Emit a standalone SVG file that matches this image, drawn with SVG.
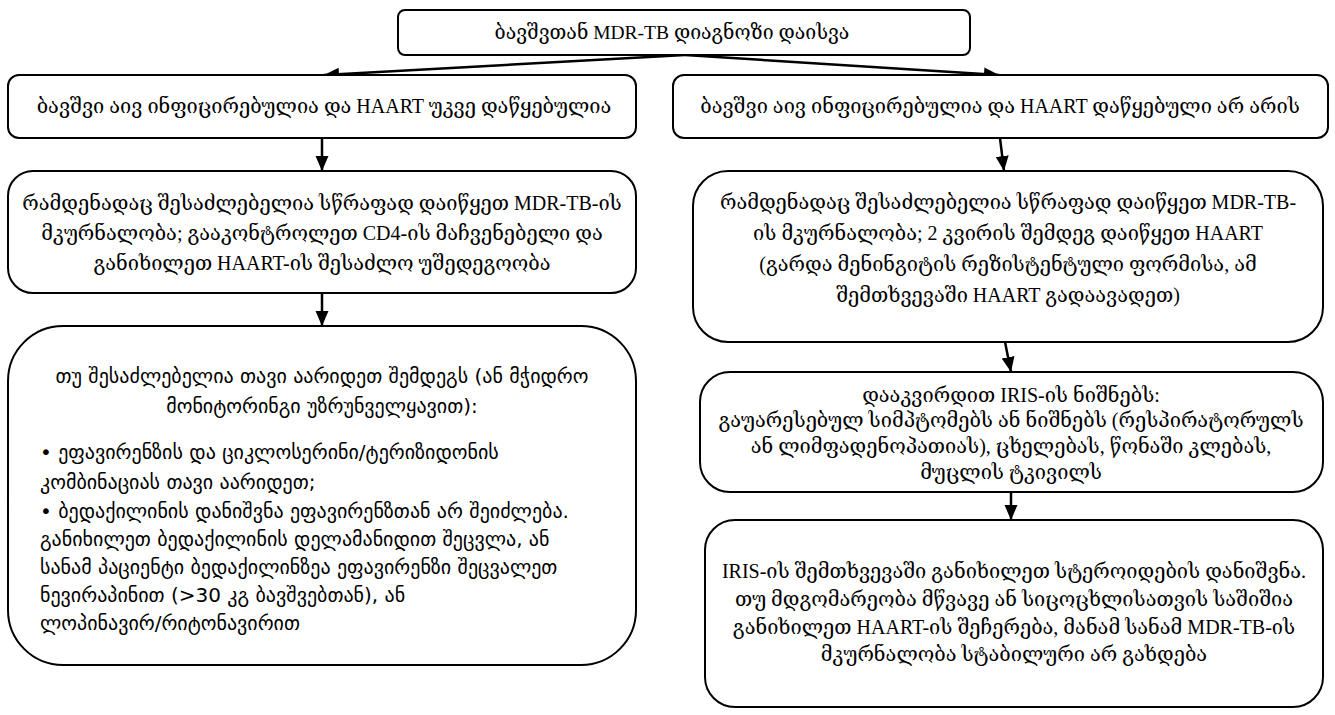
<svg xmlns="http://www.w3.org/2000/svg" width="1335" height="715" viewBox="0 0 1335 715">
  <style>
    .box { fill: #ffffff; stroke: #000000; stroke-width: 2; }
    .t { font-family: "Liberation Serif", "DejaVu Serif", serif; font-size: 20px; fill: #000000; text-anchor: middle; }
    .s { font-family: "DejaVu Sans", "Liberation Sans", sans-serif; font-size: 20px; fill: #000000; }
    .c { text-anchor: middle; }
    .edge { stroke: #000000; stroke-width: 2.5; fill: none; marker-end: url(#arrow); }
  </style>
  <defs>
    <marker id="arrow" markerUnits="userSpaceOnUse" markerWidth="16" markerHeight="16" viewBox="0 0 16 16" refX="15" refY="8" orient="auto">
      <path d="M0,1.5 L15,8 L0,14.5 Z" fill="#000000"/>
    </marker>
  </defs>

  <rect width="1335" height="715" fill="#ffffff"/>

  <!-- connectors -->
  <g id="connectors">
    <line class="edge" x1="685" y1="55" x2="324" y2="75"/>
    <line class="edge" x1="685" y1="55" x2="999" y2="75"/>
    <line class="edge" x1="322" y1="138" x2="322" y2="171"/>
    <line class="edge" x1="1000" y1="138" x2="1004" y2="171"/>
    <line class="edge" x1="322" y1="293" x2="322" y2="326"/>
    <line class="edge" x1="1005" y1="342" x2="1011" y2="372"/>
    <line class="edge" x1="1011" y1="492" x2="1011" y2="520"/>
  </g>

  <!-- root -->
  <g id="n-root">
    <rect class="box" x="398" y="10" width="572" height="45" rx="7"/>
    <text class="t" x="672" y="39" style="font-size:19.5px">ბავშვთან MDR-TB დიაგნოზი დაისვა</text>
  </g>

  <!-- left branch -->
  <g id="n-left-1">
    <rect class="box" x="8" y="75" width="628" height="63" rx="11"/>
    <text class="t" x="324" y="113">ბავშვი აივ ინფიცირებულია და HAART უკვე დაწყებულია</text>
  </g>
  <g id="n-left-2">
    <rect class="box" x="8" y="171" width="628" height="122" rx="25"/>
    <text class="t" x="322" y="210">რამდენადაც შესაძლებელია სწრაფად დაიწყეთ MDR-TB-ის</text>
    <text class="t" x="322" y="240">მკურნალობა; გააკონტროლეთ CD4-ის მაჩვენებელი და</text>
    <text class="t" x="322" y="270">განიხილეთ  HAART-ის შესაძლო უშედეგოობა</text>
  </g>
  <g id="n-left-3">
    <rect class="box" x="8" y="326" width="628" height="339" rx="55"/>
    <text class="s c" x="322" y="383">თუ შესაძლებელია თავი აარიდეთ შემდეგს (ან მჭიდრო</text>
    <text class="s c" x="322" y="413">მონიტორინგი უზრუნველყავით):</text>
    <text class="s" x="40" y="459">•  ეფავირენზის და ციკლოსერინი/ტერიზიდონის</text>
    <text class="s" x="40" y="489">კომბინაციას თავი აარიდეთ;</text>
    <text class="s" x="40" y="518">•  ბედაქილინის დანიშვნა ეფავირენზთან არ შეიძლება.</text>
    <text class="s" x="40" y="546">განიხილეთ ბედაქილინის დელამანიდით შეცვლა, ან</text>
    <text class="s" x="40" y="574">სანამ პაციენტი ბედაქილინზეა ეფავირენზი შეცვალეთ</text>
    <text class="s" x="40" y="602">ნევირაპინით (&gt;30 კგ ბავშვებთან), ან</text>
    <text class="s" x="40" y="630">ლოპინავირ/რიტონავირით</text>
  </g>

  <!-- right branch -->
  <g id="n-right-1">
    <rect class="box" x="673" y="75" width="655" height="63" rx="11"/>
    <text class="t" x="1000" y="113">ბავშვი აივ ინფიცირებულია და HAART დაწყებული არ არის</text>
  </g>
  <g id="n-right-2">
    <rect class="box" x="693" y="171" width="630" height="171" rx="35"/>
    <text class="t" x="1008" y="209">რამდენადაც შესაძლებელია სწრაფად დაიწყეთ MDR-TB-</text>
    <text class="t" x="1008" y="240">ის მკურნალობა; 2 კვირის შემდეგ დაიწყეთ HAART</text>
    <text class="t" x="1008" y="271">(გარდა მენინგიტის რეზისტენტული ფორმისა, ამ</text>
    <text class="t" x="1008" y="302">შემთხვევაში HAART გადაავადეთ)</text>
  </g>
  <g id="n-right-3">
    <rect class="box" x="700" y="372" width="623" height="120" rx="30"/>
    <text class="t" x="1011" y="402">დააკვირდით IRIS-ის ნიშნებს:</text>
    <text class="t" x="1011" y="427">გაუარესებულ სიმპტომებს ან ნიშნებს (რესპირატორულს</text>
    <text class="t" x="1011" y="453">ან ლიმფადენოპათიას), ცხელებას, წონაში კლებას,</text>
    <text class="t" x="1011" y="479">მუცლის ტკივილს</text>
  </g>
  <g id="n-right-4">
    <rect class="box" x="705" y="520" width="618" height="187" rx="30"/>
    <text class="t" x="1014" y="578">IRIS-ის შემთხვევაში განიხილეთ სტეროიდების დანიშვნა.</text>
    <text class="t" x="1014" y="606">თუ მდგომარეობა მწვავე ან სიცოცხლისათვის საშიშია</text>
    <text class="t" x="1014" y="634">განიხილეთ  HAART-ის შეჩერება, მანამ სანამ MDR-TB-ის</text>
    <text class="t" x="1014" y="661">მკურნალობა სტაბილური არ გახდება</text>
  </g>
</svg>
